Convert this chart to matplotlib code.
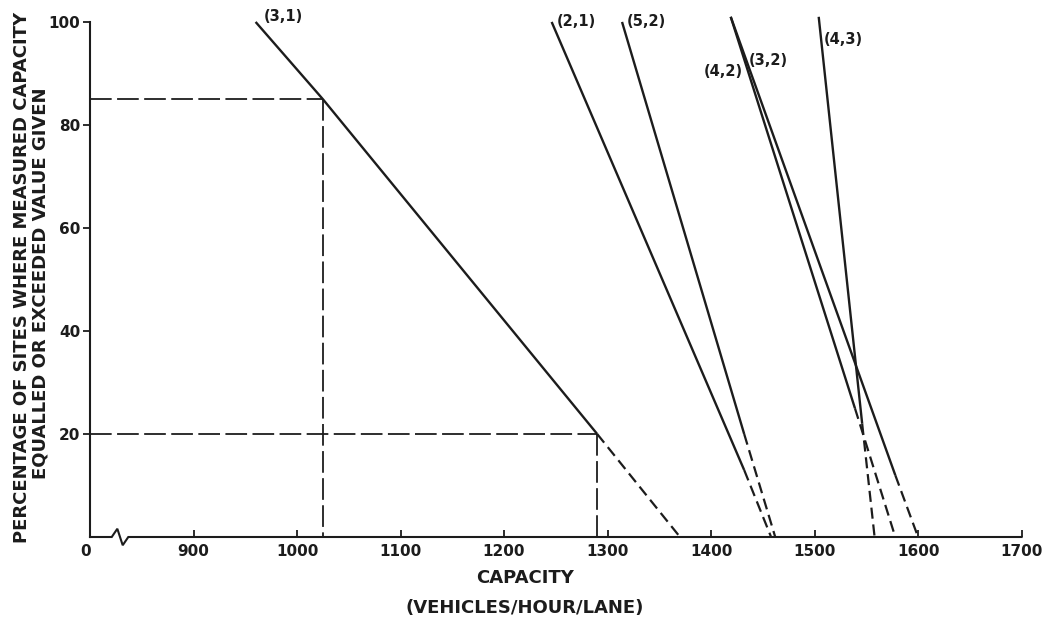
import numpy as np
import matplotlib.pyplot as plt

# capacity distribution lines
# solid part then dashed extrapolation to 0 %
labels = ["(3,1)", "(2,1)", "(5,2)", "(4,2)", "(3,2)", "(4,3)"]
solid_x = [[960, 1025, 1290], [1246, 1432], [1314, 1432], [1419, 1539], [1419, 1578], [1504, 1546]]
solid_y = [[100, 85, 20], [100, 13], [100, 20], [101, 25], [101, 12], [101, 22]]
dash_x = [[1290, 1370], [1432, 1458], [1432, 1462], [1539, 1578], [1578, 1600], [1546, 1558]]
dash_y = [[20, 0], [13, 0], [20, 0], [25, 0], [12, 0], [22, 0]]

# label anchor positions (data units)
label_x = [968, 1251, 1319, 1431, 1436, 1509]
label_y = [101, 100, 100, 90.3, 92.6, 96.5]
label_ha = ["left", "left", "left", "right", "left", "left"]

# 85th and 20th percentile reference lines
ref_pct = [85, 20]
ref_cap = [1025, 1290]

xticks = [900, 1000, 1100, 1200, 1300, 1400, 1500, 1600, 1700]
yticks = [20, 40, 60, 80, 100]

ink = "#1c1c1c"
plt.rcParams["font.family"] = "DejaVu Sans"
plt.rcParams["font.weight"] = "bold"

fig = plt.figure(figsize=(10.47, 6.25), dpi=100)
ax = fig.add_axes([90 / 1047, 88 / 625, 944 / 1047, 530.5 / 625])
ax.set_xlim(800, 1712)
ax.set_ylim(0, 103)

# reference dashed lines
for p, c in zip(ref_pct, ref_cap):
    ax.plot([800, c], [p, p], color=ink, lw=1.3, ls=(0, (12, 3)), clip_on=False)
    ax.plot([c, c], [p, 0], color=ink, lw=1.3, ls=(0, (12, 3)), clip_on=False)

for i in range(len(labels)):
    ax.plot(solid_x[i], solid_y[i], color=ink, lw=1.7, solid_capstyle="butt", clip_on=False)
    ax.plot(dash_x[i], dash_y[i], color=ink, lw=1.6, ls=(0, (5, 2.6)), clip_on=False)
    ax.text(label_x[i], label_y[i], labels[i], ha=label_ha[i], va="center",
            fontsize=10.5, fontweight="bold", color=ink)

# bottom axis with break symbol
axis_x = [800, 821, 826.4, 831.6, 837, 1700]
axis_y = [0, 0, 1.6, -1.6, 0, 0]
ax.plot(axis_x, axis_y, color=ink, lw=1.5, clip_on=False, solid_joinstyle="miter")

for s in ["top", "right", "bottom"]:
    ax.spines[s].set_visible(False)
ax.spines["left"].set_bounds(0, 100)
ax.spines["left"].set_linewidth(1.5)
ax.spines["left"].set_color(ink)

ax.set_xticks(xticks)
ax.set_xticklabels([str(t) for t in xticks])
ax.set_yticks(yticks)
ax.set_yticklabels([str(t) for t in yticks])
ax.tick_params(axis="x", direction="in", length=5, width=1.3, pad=5, colors=ink, labelsize=11)
ax.tick_params(axis="y", direction="out", length=5, width=1.3, pad=2, colors=ink, labelsize=11)
for lab in ax.get_xticklabels() + ax.get_yticklabels():
    lab.set_fontweight("bold")

ax.annotate("0", xy=(800, 0), xytext=(-3, -5), textcoords="offset points",
            ha="center", va="top", fontsize=11, fontweight="bold", color=ink)

fig.text(525 / 1047, 1 - 578 / 625, "CAPACITY", ha="center", va="center",
         fontsize=13, fontweight="bold", color=ink)
fig.text(525 / 1047, 1 - 608 / 625, "(VEHICLES/HOUR/LANE)", ha="center", va="center",
         fontsize=13, fontweight="bold", color=ink)
fig.text(22 / 1047, 1 - 277 / 625, "PERCENTAGE OF SITES WHERE MEASURED CAPACITY",
         rotation=90, ha="center", va="center", fontsize=13, fontweight="bold", color=ink)
fig.text(41 / 1047, 1 - 283 / 625, "EQUALLED OR EXCEEDED VALUE GIVEN",
         rotation=90, ha="center", va="center", fontsize=13, fontweight="bold", color=ink)

fig.savefig("out.png", dpi=100)
